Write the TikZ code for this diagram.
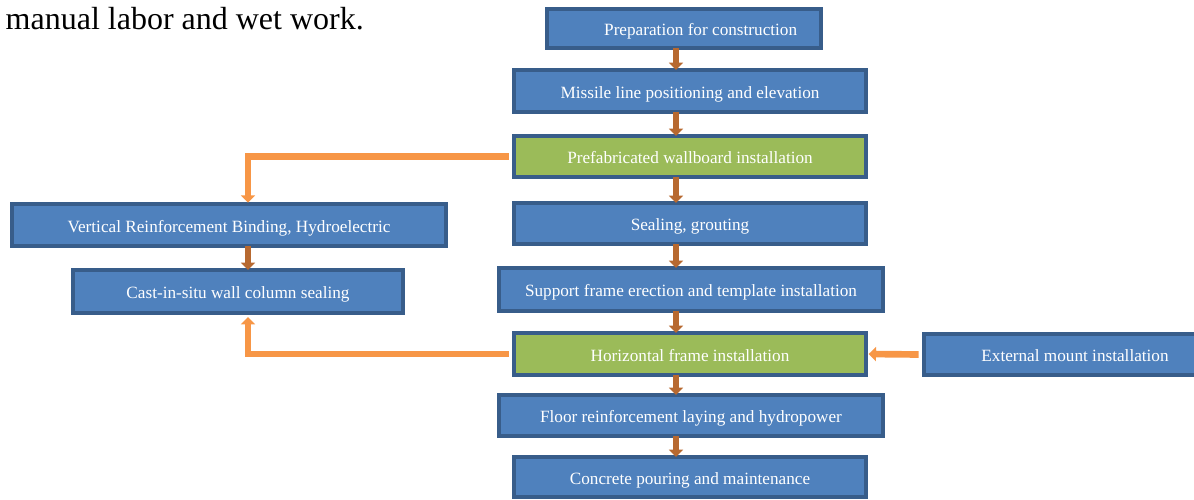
\documentclass[tikz,border=0pt]{standalone}
\usepackage{fontspec}
\setmainfont{Liberation Serif}
\usetikzlibrary{arrows.meta}

\definecolor{boxblue}{RGB}{79,129,189}
\definecolor{boxedge}{RGB}{56,93,138}
\definecolor{boxgreen}{RGB}{155,187,89}
\definecolor{linkorange}{RGB}{247,150,70}
\definecolor{stepbrown}{RGB}{183,105,48}

\begin{document}
\begin{tikzpicture}[
    x=0.75pt,y=-0.75pt,
    font=\fontsize{12.9}{14}\selectfont,
    base/.style={rectangle,draw=boxedge,line width=3pt,text=white,inner sep=0pt,outer sep=0pt,minimum height=31.5pt,text height=11pt,text depth=0pt},
    bluebox/.style={base,fill=boxblue},
    greenbox/.style={base,fill=boxgreen},
    steparrow/.style={draw=stepbrown,line width=5pt,-{Triangle[width=10.5pt,length=5.5pt]}},
    linkarrow/.style={draw=linkorange,line width=5pt,-{Triangle[width=10.5pt,length=5.5pt]}}
  ]
  \useasboundingbox (0,0) rectangle (1194,499);

  \node(intro) [anchor=base west,font=\fontsize{24}{26}\selectfont] at (1,30) {manual labor and wet work.};

  % main column
  \node(prep) [bluebox,minimum width=205.5pt,minimum height=29.25pt] at (684,28.5) {\hspace*{25pt}Preparation for construction};
  \node(missile) [bluebox,minimum width=264pt] at (690,91) {Missile line positioning and elevation};
  \node(prefab) [greenbox,minimum width=264pt,minimum height=30.75pt] at (690,156.5) {Prefabricated wallboard installation};
  \node(sealing) [bluebox,minimum width=264pt,minimum height=30.75pt] at (690,223.5) {Sealing, grouting};
  \node(support) [bluebox,minimum width=288pt,minimum height=32.25pt] at (691,289.5) {Support frame erection and template installation};
  \node(horiz) [greenbox,minimum width=264pt] at (690,354) {Horizontal frame installation};
  \node(floor) [bluebox,minimum width=288pt,minimum height=30.75pt] at (691,415.5) {Floor reinforcement laying and hydropower};
  \node(concrete) [bluebox,minimum width=264pt,minimum height=30pt] at (690,477) {Concrete pouring and maintenance};

  % side boxes
  \node(vertical) [bluebox,minimum width=325.5pt] at (229,225) {Vertical Reinforcement Binding, Hydroelectric};
  \node(cast) [bluebox,minimum width=247.5pt,minimum height=32.25pt] at (238,291.5) {Cast-in-situ wall column sealing};
  \node(external) [bluebox,minimum width=226.5pt,minimum height=30.75pt] at (1075,354.5) {External mount installation};

  \coordinate(axis) at (676,0);
  \coordinate(leftaxis) at (248,0);

  \draw[steparrow] (prep.south -| axis) -- (missile.north -| axis);
  \draw[steparrow] (missile.south -| axis) -- (prefab.north -| axis);
  \draw[steparrow] (prefab.south -| axis) -- (sealing.north -| axis);
  \draw[steparrow] (sealing.south -| axis) -- (support.north -| axis);
  \draw[steparrow] (support.south -| axis) -- (horiz.north -| axis);
  \draw[steparrow] (horiz.south -| axis) -- (floor.north -| axis);
  \draw[steparrow] (floor.south -| axis) -- (concrete.north -| axis);
  \draw[steparrow] (vertical.south -| leftaxis) -- (cast.north -| leftaxis);

  \draw[linkarrow] ([xshift=-4pt]prefab.west) -| ([yshift=1pt]vertical.north -| leftaxis);
  \draw[linkarrow] ([xshift=-4pt]horiz.west) -| ([yshift=-3pt]cast.south -| leftaxis);
  \draw[linkarrow] ([xshift=-4pt]external.west) -- ([xshift=2pt]horiz.east);

\end{tikzpicture}
\end{document}
